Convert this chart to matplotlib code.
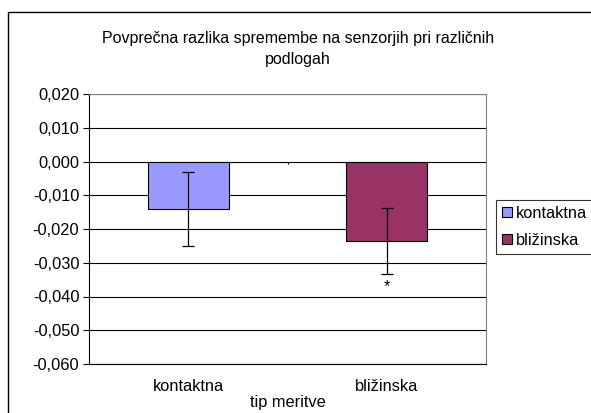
import matplotlib
matplotlib.use("Agg")
import matplotlib.pyplot as plt
from matplotlib.patches import Rectangle, Patch
from matplotlib.ticker import FuncFormatter

plt.rcParams['font.family'] = ['Liberation Sans', 'DejaVu Sans']

categories = ['kontaktna', 'bližinska']
means = [-0.014, -0.0235]
errors = [0.011, 0.0097]
colors = ['#9999ff', '#993366']
yticks = [0.02, 0.01, 0.0, -0.01, -0.02, -0.03, -0.04, -0.05, -0.06]

fs = 11.8

fig = plt.figure(figsize=(5.91, 4.13), dpi=100)
# chart area border (cut off at right and bottom like the original)
fig.patches.append(Rectangle((8 / 591, -0.05), 1.2, 1 - 12 / 413 + 0.05,
                             transform=fig.transFigure, fill=False,
                             edgecolor='black', linewidth=1.0))

ax = fig.add_axes([89 / 591, 1 - 364 / 413, (486 - 89) / 591, (364 - 94) / 413])
x = range(len(categories))
ax.bar(x, means, width=0.41, color=colors, edgecolor='black', linewidth=0.8, zorder=3)
ax.errorbar(x, means, yerr=errors, fmt='none', ecolor='black', elinewidth=0.9,
            capsize=4.5, capthick=0.9, zorder=4)
ax.text(1, means[1] - errors[1] - 0.0018, '*', ha='center', va='top', fontsize=fs)

ax.set_xlim(-0.5, 1.5)
ax.set_ylim(-0.06, 0.02)
ax.set_yticks(yticks)
ax.yaxis.set_major_formatter(FuncFormatter(lambda v, p: f"{v:.3f}".replace('.', ',').replace('-0,000', '0,000')))
ax.grid(axis='y', color='black', linewidth=0.8, zorder=0)
ax.set_axisbelow(True)
ax.tick_params(axis='y', direction='out', length=4, width=0.8, labelsize=fs, pad=3)
ax.set_xticks(list(x))
ax.set_xticklabels(categories, fontsize=fs)
ax.tick_params(axis='x', length=0, pad=11)
ax.set_xlabel('tip meritve', fontsize=fs, labelpad=0.5)
# category divider tick on the zero line
ax.vlines(0.5, -0.0007, 0, color='black', linewidth=0.8, zorder=3)

for s in ['top', 'right']:
    ax.spines[s].set_color('#808080')
    ax.spines[s].set_linewidth(0.8)
ax.spines['left'].set_linewidth(0.8)
ax.spines['bottom'].set_linewidth(0.8)

fig.text(298 / 591, 1 - 49 / 413, 'Povprečna razlika spremembe na senzorjih pri različnih\npodlogah',
         ha='center', va='center', fontsize=11.5, linespacing=1.45)

handles = [Patch(facecolor=c, edgecolor='black', linewidth=0.8) for c in colors]
leg = fig.legend(handles, categories, loc='upper left', bbox_to_anchor=(496 / 591, 1 - 200 / 413),
                 fontsize=fs, frameon=True, fancybox=False, edgecolor='black',
                 handlelength=0.6, handleheight=0.6, handletextpad=0.25,
                 borderpad=0.35, labelspacing=0.75, borderaxespad=0)
leg.get_frame().set_linewidth(0.8)

fig.savefig('out.png', dpi=100)
